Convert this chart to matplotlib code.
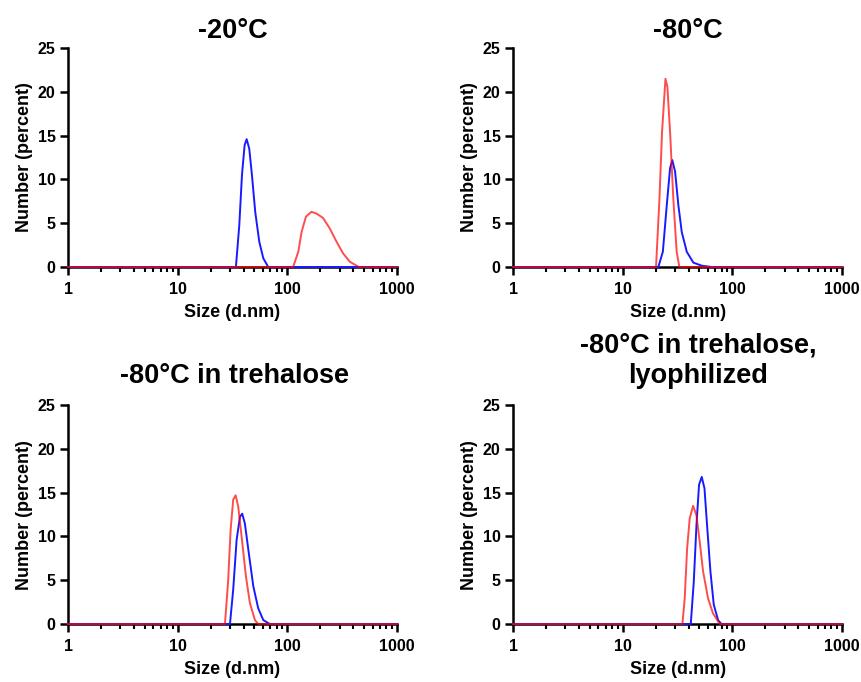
import matplotlib
matplotlib.use('Agg')
import matplotlib.pyplot as plt
from matplotlib.ticker import LogLocator, FixedLocator, NullFormatter

plt.rcParams['font.family'] = ['Liberation Sans', 'DejaVu Sans']
plt.rcParams['font.weight'] = 'bold'

# Panel titles
titles = ['-20°C', '-80°C', '-80°C in trehalose', '-80°C in trehalose,\nlyophilized']

# Size distributions (d.nm vs number %)
# -20°C
size_20_blue = [1, 34, 36.5, 38.6, 40.8, 42.6, 45, 47.6, 51, 55.5, 60.4, 67, 1000]
num_20_blue = [0, 0, 4.8, 10.5, 13.9, 14.6, 13.5, 10.5, 6.3, 2.9, 1.0, 0, 0]
size_20_red = [1, 113, 126, 135, 148, 166, 185, 212, 244, 281, 323, 372, 450, 1000]
num_20_red = [0, 0, 1.75, 4.0, 5.75, 6.3, 6.1, 5.6, 4.4, 2.9, 1.55, 0.6, 0, 0]

# -80°C
size_80_blue = [1, 21.1, 23.2, 25.2, 27, 28.3, 30, 32.1, 34.5, 38.3, 44, 52.5, 64.8, 1000]
num_80_blue = [0, 0, 1.75, 7.1, 11.3, 12.2, 10.9, 7.1, 4.0, 1.75, 0.5, 0.15, 0, 0]
size_80_red = [1, 20.1, 21.6, 22.8, 24.5, 25.5, 27, 28.9, 31, 32.8, 1000]
num_80_red = [0, 0, 7.8, 15.4, 21.5, 20.6, 15.4, 7.8, 1.75, 0, 0]

# -80°C in trehalose
size_tre_blue = [1, 30, 32.1, 34.5, 37, 38.8, 41, 45, 49, 54.3, 60.4, 69.4, 1000]
num_tre_blue = [0, 0, 3.9, 9.6, 12.25, 12.6, 11.5, 7.7, 4.3, 1.8, 0.45, 0, 0]
size_tre_red = [1, 27, 28.9, 30.4, 32.1, 33.8, 35.7, 38.3, 42, 45.6, 50.7, 54.3, 1000]
num_tre_red = [0, 0, 5.0, 10.7, 14.2, 14.7, 13.4, 10.0, 5.4, 2.4, 0.45, 0, 0]

# -80°C in trehalose, lyophilized
size_lyo_blue = [1, 41.7, 44.4, 47, 49.6, 52.5, 55.6, 58.7, 63, 67.6, 74, 79.4, 1000]
num_lyo_blue = [0, 0, 4.8, 11.3, 15.9, 16.8, 15.5, 11.3, 6.0, 2.2, 0.45, 0, 0]
size_lyo_red = [1, 35, 36.7, 38.6, 40.8, 43.8, 47, 50.3, 54, 60, 66.6, 76.6, 1000]
num_lyo_red = [0, 0, 2.9, 8.6, 12.1, 13.5, 12.4, 9.4, 6.0, 2.9, 1.2, 0, 0]

panels = [
    (size_20_blue, num_20_blue, size_20_red, num_20_red),
    (size_80_blue, num_80_blue, size_80_red, num_80_red),
    (size_tre_blue, num_tre_blue, size_tre_red, num_tre_red),
    (size_lyo_blue, num_lyo_blue, size_lyo_red, num_lyo_red),
]

# axes boxes in figure fraction (left, bottom, width, height)
boxes = [
    (0.079, 0.6085, 0.382, 0.321),
    (0.596, 0.6085, 0.382, 0.321),
    (0.079, 0.085, 0.382, 0.321),
    (0.596, 0.085, 0.382, 0.321),
]
title_pos = [(0.50, 1.047), (0.53, 1.047), (0.505, 1.102), (0.562, 1.102)]

fig = plt.figure(figsize=(8.61, 6.82), dpi=100)

for i, (xb, yb, xr, yr) in enumerate(panels):
    ax = fig.add_axes(boxes[i])
    ax.plot(xb, yb, color='#1a1aff', lw=1.4, zorder=3, clip_on=False)
    ax.plot(xr, yr, color='red', alpha=0.7, lw=1.4, zorder=4, clip_on=False)

    ax.set_xscale('log')
    ax.set_xlim(1, 1000)
    ax.set_ylim(0, 25)
    ax.set_yticks([0, 5, 10, 15, 20, 25])
    ax.xaxis.set_major_locator(FixedLocator([1, 10, 100, 1000]))
    ax.set_xticklabels(['1', '10', '100', '1000'])
    ax.xaxis.set_minor_locator(LogLocator(base=10, subs=range(2, 10)))
    ax.xaxis.set_minor_formatter(NullFormatter())

    for side in ['top', 'right']:
        ax.spines[side].set_visible(False)
    for side in ['left', 'bottom']:
        ax.spines[side].set_linewidth(1.8)

    ax.tick_params(which='major', length=6, width=1.8, labelsize=11.5, pad=3)
    ax.tick_params(axis='x', which='major', pad=5)
    ax.tick_params(which='minor', length=3.5, width=1.5)
    ax.tick_params(axis='y', which='minor', left=False)

    ax.set_xlabel('Size (d.nm)', fontsize=13, fontweight='bold', labelpad=5)
    ax.set_ylabel('Number (percent)', fontsize=13, fontweight='bold', labelpad=3)

    tx, ty = title_pos[i]
    ax.text(tx, ty, titles[i], transform=ax.transAxes, ha='center', va='baseline',
            fontsize=19.5, fontweight='bold', linespacing=1.2)

fig.savefig('out.png', dpi=100)
